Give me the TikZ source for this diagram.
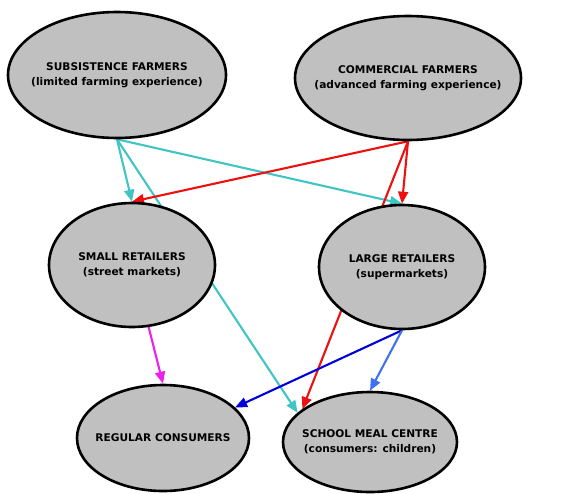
\documentclass[tikz,border=0pt]{standalone}
\usepackage{fontspec}
\setmainfont{DejaVu Sans}
\usepackage{tikz}
\usetikzlibrary{arrows.meta,shapes.geometric,backgrounds}

\begin{document}
\begin{tikzpicture}[x=1pt,y=-1pt]
\tikzstyle{actor}=[ellipse,draw=black,line width=2.6pt,fill=actorgray,inner xsep=-30pt,inner ysep=0pt,align=center,font=\fontsize{10.6}{15}\selectfont\bfseries]
\tikzstyle{flow}=[line width=2.1pt,-{Triangle[length=12pt,width=10pt]}]
\definecolor{actorgray}{RGB}{192,192,192}
\definecolor{subcyan}{RGB}{64,196,196}
\definecolor{comred}{RGB}{236,16,16}
\definecolor{smallmag}{RGB}{236,32,236}
\definecolor{largeblue}{RGB}{0,0,216}
\definecolor{schoolblue}{RGB}{64,112,240}
\useasboundingbox (0,0) rectangle (567,493);
\node [actor,minimum width=218pt,minimum height=126pt] (sub) at (117,75) {SUBSISTENCE FARMERS\\(limited farming experience)};
\node [actor,minimum width=226pt,minimum height=124pt] (com) at (408,78) {COMMERCIAL FARMERS\\(advanced farming experience)};
\node [actor,minimum width=166pt,minimum height=124pt] (small) at (132,265) {SMALL RETAILERS\\(street markets)};
\node [actor,minimum width=166pt,minimum height=124pt] (large) at (402,267) {LARGE RETAILERS\\(supermarkets)};
\node [actor,minimum width=172pt,minimum height=106pt] (reg) at (163,438) {REGULAR CONSUMERS};
\node [actor,minimum width=174pt,minimum height=100pt] (school) at (370,442) {SCHOOL MEAL CENTRE\\(consumers: children)};
\begin{scope}[on background layer]
% subsistence farmers
\draw [flow,subcyan] (sub.south) -- (small.north);
\draw [flow,subcyan] (sub.south) -- (large.north);
\draw [flow,subcyan] (sub.south) -- (school.158);
% commercial farmers
\draw [flow,comred] (com.south) -- (small.north);
\draw [flow,comred] (com.south) -- (large.north);
\draw [flow,comred] (com.south) -- (school.154);
% retailers
\draw [flow,smallmag] (small.-75) -- (reg.north);
\draw [flow,largeblue] (large.south) -- (reg.23);
\draw [flow,schoolblue] (large.south) -- (school.north);
\end{scope}
\end{tikzpicture}
\end{document}
